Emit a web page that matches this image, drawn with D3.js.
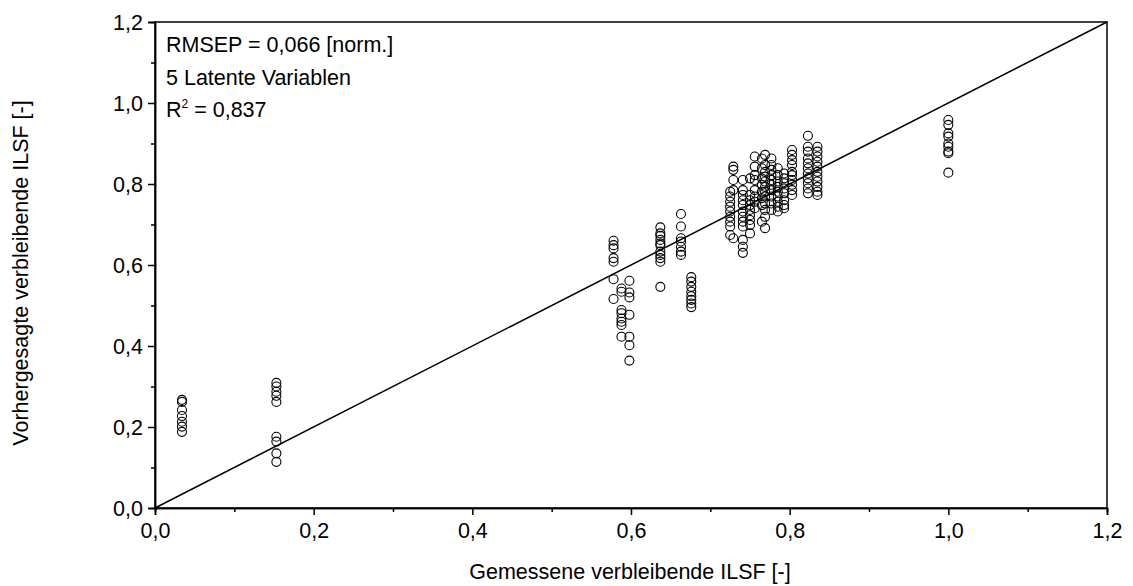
<!DOCTYPE html>
<html><head><meta charset="utf-8">
<script src="https://cdn.jsdelivr.net/npm/d3@7"></script>
<style>
body{margin:0;background:#fff;}
text{font-family:"Liberation Sans",Arial,sans-serif;fill:#000;}
</style></head>
<body>
<svg id="c" width="1133" height="586"></svg>
<script>
// measured value for each column of points
const measured = [0.034, 0.153, 0.578, 0.588, 0.598, 0.637, 0.663, 0.676,
  0.725, 0.729, 0.741, 0.75, 0.756, 0.765, 0.769, 0.777, 0.785, 0.793, 0.803, 0.823, 0.835, 1.0];
// predicted values in each column
const predicted = [
  [0.267, 0.262, 0.242, 0.227, 0.213, 0.201, 0.188],
  [0.309, 0.3, 0.287, 0.277, 0.262, 0.176, 0.164, 0.135, 0.114],
  [0.66, 0.649, 0.641, 0.617, 0.608, 0.565, 0.516],
  [0.542, 0.534, 0.489, 0.481, 0.468, 0.46, 0.452, 0.423],
  [0.561, 0.532, 0.52, 0.477, 0.423, 0.402, 0.364],
  [0.693, 0.678, 0.672, 0.662, 0.653, 0.649, 0.633, 0.625, 0.617, 0.608, 0.546],
  [0.726, 0.695, 0.666, 0.658, 0.645, 0.633, 0.625],
  [0.57, 0.559, 0.546, 0.534, 0.523, 0.514, 0.505, 0.496],
  [0.781, 0.769, 0.756, 0.744, 0.732, 0.719, 0.707, 0.695, 0.674],
  [0.843, 0.835, 0.81, 0.785, 0.666],
  [0.81, 0.785, 0.773, 0.76, 0.748, 0.732, 0.719, 0.707, 0.695, 0.662, 0.645, 0.63],
  [0.814, 0.773, 0.76, 0.748, 0.736, 0.723, 0.711, 0.699, 0.678],
  [0.868, 0.843, 0.822, 0.81, 0.785, 0.769, 0.756, 0.74],
  [0.863, 0.839, 0.814, 0.798, 0.781, 0.765, 0.748, 0.707],
  [0.872, 0.847, 0.83, 0.818, 0.806, 0.793, 0.781, 0.769, 0.752, 0.736, 0.719, 0.691],
  [0.863, 0.847, 0.835, 0.822, 0.81, 0.798, 0.785, 0.769, 0.752, 0.736],
  [0.839, 0.822, 0.806, 0.793, 0.781, 0.769, 0.756, 0.744, 0.732],
  [0.826, 0.814, 0.802, 0.789, 0.777, 0.76, 0.748, 0.74],
  [0.884, 0.872, 0.859, 0.847, 0.83, 0.822, 0.81, 0.798, 0.785, 0.773],
  [0.919, 0.892, 0.88, 0.863, 0.851, 0.839, 0.826, 0.814, 0.802, 0.789, 0.777],
  [0.892, 0.88, 0.868, 0.855, 0.843, 0.83, 0.818, 0.806, 0.793, 0.781, 0.773],
  [0.958, 0.946, 0.925, 0.917, 0.9, 0.892, 0.88, 0.876, 0.828]
];
const majorTicks = [0, 0.2, 0.4, 0.6, 0.8, 1.0, 1.2];
const minorTicks = [0.1, 0.3, 0.5, 0.7, 0.9, 1.1];
const xTitle = "Gemessene verbleibende ILSF [-]";
const yTitle = "Vorhergesagte verbleibende ILSF [-]";
const notes = ["RMSEP = 0,066 [norm.]", "5 Latente Variablen"];

const FS = 21.5;
const svg = d3.select("#c");
const L = 155, R = 1107, T = 22, B = 508;
const x = d3.scaleLinear().domain([0, 1.2]).range([L, R]);
const y = d3.scaleLinear().domain([0, 1.2]).range([B, T]);
const fmt = d => d3.format(".1f")(d).replace(".", ",");

// frame
svg.append("rect").attr("x", L).attr("y", T).attr("width", R - L).attr("height", B - T)
  .attr("fill", "none").attr("stroke", "#000").attr("stroke-width", 1.5);

// axes
const xAx = svg.append("g").attr("transform", `translate(0,${B})`)
  .call(d3.axisBottom(x).tickValues(majorTicks).tickFormat(fmt).tickSize(7).tickPadding(4));
const xAxMin = svg.append("g").attr("transform", `translate(0,${B})`)
  .call(d3.axisBottom(x).tickValues(minorTicks).tickFormat("").tickSize(4));
const yAx = svg.append("g").attr("transform", `translate(${L},0)`)
  .call(d3.axisLeft(y).tickValues(majorTicks).tickFormat(fmt).tickSize(7).tickPadding(5));
const yAxMin = svg.append("g").attr("transform", `translate(${L},0)`)
  .call(d3.axisLeft(y).tickValues(minorTicks).tickFormat("").tickSize(4));
[xAx, xAxMin, yAx, yAxMin].forEach(g => {
  g.attr("font-size", FS).attr("font-family", "Liberation Sans, Arial, sans-serif");
  g.select(".domain").attr("stroke-width", 1.5);
  g.selectAll(".tick line").attr("stroke-width", 1.5);
  g.selectAll("text").attr("font-size", FS);
});
xAx.selectAll("text").attr("dy", "0.9em");
yAx.selectAll("text").attr("dy", "0.35em");

// diagonal
svg.append("line").attr("x1", x(0)).attr("y1", y(0)).attr("x2", x(1.2)).attr("y2", y(1.2))
  .attr("stroke", "#000").attr("stroke-width", 1.5);

// points
const pts = [];
measured.forEach((m, i) => predicted[i].forEach(p => pts.push([m, p])));
svg.append("g").selectAll("circle").data(pts).join("circle")
  .attr("cx", d => x(d[0])).attr("cy", d => y(d[1])).attr("r", 4.5)
  .attr("fill", "none").attr("stroke", "#000").attr("stroke-width", 1.1);

// annotations
notes.forEach((t, i) => svg.append("text").attr("x", 166).attr("y", 52 + i * 32.5)
  .attr("font-size", FS).text(t));
const r2 = svg.append("text").attr("x", 166).attr("y", 117).attr("font-size", FS);
r2.append("tspan").text("R");
r2.append("tspan").attr("font-size", 12).attr("dy", -9).text("2");
r2.append("tspan").attr("dy", 9).text(" = 0,837");

// titles
svg.append("text").attr("x", 630).attr("y", 579).attr("text-anchor", "middle")
  .attr("font-size", FS).text(xTitle);
svg.append("text").attr("transform", `translate(28,${(T + B) / 2 + 8}) rotate(-90)`)
  .attr("text-anchor", "middle").attr("font-size", FS).text(yTitle);
</script>
</body></html>
